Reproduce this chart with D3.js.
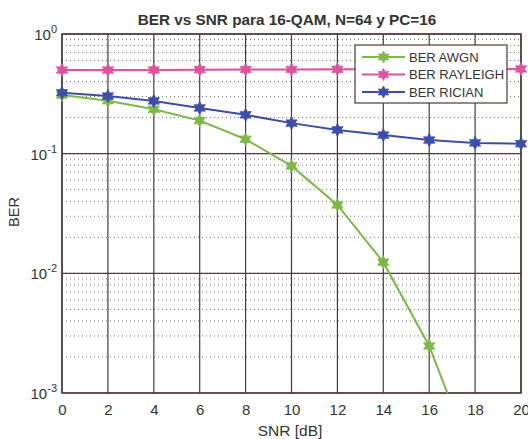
<!DOCTYPE html>
<html><head><meta charset="utf-8">
<script src="https://cdn.jsdelivr.net/npm/d3@7"></script>
<style>body{margin:0;background:#fff;}svg{display:block;}</style>
</head><body>
<script>
const snr = [0, 2, 4, 6, 8, 10, 12, 14, 16, 18, 20];
const berAWGN = [0.309, 0.277, 0.235, 0.189, 0.132, 0.079, 0.0373, 0.0124, 0.00247, 0.00025, 0.00001];
const berRayleigh = [0.50, 0.50, 0.50, 0.503, 0.505, 0.505, 0.507, 0.508, 0.51, 0.51, 0.51];
const berRician = [0.323, 0.303, 0.276, 0.241, 0.211, 0.180, 0.158, 0.143, 0.130, 0.123, 0.121];
const seriesNames = ["BER AWGN", "BER RAYLEIGH", "BER RICIAN"];
const seriesColors = ["#7db84a", "#d9559d", "#3d4fa3"];
const xTicks = [0, 2, 4, 6, 8, 10, 12, 14, 16, 18, 20];
const yTickExps = [0, -1, -2, -3];
const titleText = "BER vs SNR para 16-QAM, N=64 y PC=16";
const xLabel = "SNR [dB]";
const yLabel = "BER";

const W = 528, H = 439;
const L = 62, R = 521, T = 34, B = 393;
const svg = d3.select("body").append("svg").attr("width", W).attr("height", H);
const font = "'Liberation Sans', Arial, sans-serif";
const txt = "#333";
const frame = "#4a3a3a";

const x = d3.scaleLinear().domain([0, 20]).range([L, R]);
const y = d3.scaleLog().domain([1e-3, 1]).range([B, T]);

// minor grid (dotted)
const minor = [];
for (let e = -3; e < 0; e++) for (let m = 2; m <= 9; m++) minor.push(m * Math.pow(10, e));
svg.append("g").selectAll("line").data(minor).join("line")
  .attr("x1", L).attr("x2", R).attr("y1", d => y(d)).attr("y2", d => y(d))
  .attr("stroke", "#777").attr("stroke-width", 1).attr("stroke-dasharray", "1,3");

// major grid
svg.append("g").selectAll("line").data(xTicks).join("line")
  .attr("x1", d => x(d)).attr("x2", d => x(d)).attr("y1", T).attr("y2", B)
  .attr("stroke", frame).attr("stroke-width", 1.2);
svg.append("g").selectAll("line").data(yTickExps).join("line")
  .attr("x1", L).attr("x2", R).attr("y1", d => y(Math.pow(10, d))).attr("y2", d => y(Math.pow(10, d)))
  .attr("stroke", frame).attr("stroke-width", 1.2);

// frame
svg.append("rect").attr("x", L).attr("y", T).attr("width", R - L).attr("height", B - T)
  .attr("fill", "none").attr("stroke", frame).attr("stroke-width", 1.5);

// x axis labels
const xAxis = d3.axisBottom(x).tickValues(xTicks).tickSize(0).tickPadding(11);
const gx = svg.append("g").attr("transform", `translate(0,${B})`).call(xAxis);
gx.select(".domain").remove();
gx.selectAll("text").attr("font-family", font).attr("font-size", 15).attr("fill", txt);

// y axis labels (10^n)
const gy = svg.append("g");
yTickExps.forEach(e => {
  const t = gy.append("text").attr("x", 57).attr("y", y(Math.pow(10, e)) + 6)
    .attr("text-anchor", "end").attr("font-family", font).attr("font-size", 15).attr("fill", txt);
  t.append("tspan").text("10");
  t.append("tspan").attr("dy", -7).attr("font-size", 11).text(String(e));
});

// title and labels
svg.append("text").attr("x", 287).attr("y", 25).attr("text-anchor", "middle")
  .attr("font-family", font).attr("font-size", 15.3).attr("font-weight", "bold").attr("fill", txt).text(titleText);
svg.append("text").attr("x", 290).attr("y", 436).attr("text-anchor", "middle")
  .attr("font-family", font).attr("font-size", 15.5).attr("fill", txt).text(xLabel);
svg.append("text").attr("transform", "translate(19,212) rotate(-90)").attr("text-anchor", "middle")
  .attr("font-family", font).attr("font-size", 14.5).attr("fill", txt).text(yLabel);

// clip
svg.append("clipPath").attr("id", "clip").append("rect")
  .attr("x", L - 10).attr("y", T - 10).attr("width", R - L + 20).attr("height", B - T + 10);

function hexagram(r) {
  const pts = [];
  for (let i = 0; i < 12; i++) {
    const a = -Math.PI / 2 + i * Math.PI / 6;
    const rr = i % 2 === 0 ? r : r * 0.55;
    pts.push([rr * Math.cos(a), rr * Math.sin(a)]);
  }
  return "M" + pts.map(p => p.join(",")).join("L") + "Z";
}

const allSeries = [berAWGN, berRayleigh, berRician];
const line = d3.line().defined(d => d[1] > 0).x(d => x(d[0])).y(d => y(d[1]));
const plot = svg.append("g").attr("clip-path", "url(#clip)");
allSeries.forEach((vals, i) => {
  const data = snr.map((s, k) => [s, vals[k]]);
  plot.append("path").datum(data).attr("d", line).attr("fill", "none")
    .attr("stroke", seriesColors[i]).attr("stroke-width", 2);
  plot.selectAll(null).data(data.filter(d => d[1] >= 1e-3)).join("path")
    .attr("transform", d => `translate(${x(d[0])},${y(d[1])})`)
    .attr("d", hexagram(6.5)).attr("fill", seriesColors[i]).attr("stroke", seriesColors[i]).attr("stroke-width", 0.8);
});

// legend
const lg = svg.append("g");
lg.append("rect").attr("x", 355).attr("y", 45).attr("width", 152).attr("height", 58)
  .attr("fill", "#fff").attr("stroke", frame).attr("stroke-width", 1.2);
seriesNames.forEach((n, i) => {
  const yy = 57 + i * 17.5;
  lg.append("line").attr("x1", 362).attr("x2", 405).attr("y1", yy).attr("y2", yy)
    .attr("stroke", seriesColors[i]).attr("stroke-width", 2);
  lg.append("path").attr("transform", `translate(383.5,${yy})`).attr("d", hexagram(6))
    .attr("fill", seriesColors[i]).attr("stroke", seriesColors[i]).attr("stroke-width", 0.8);
  lg.append("text").attr("x", 409).attr("y", yy + 4.5).attr("font-family", font).attr("font-size", 13)
    .attr("fill", txt).text(n);
});
</script>
</body></html>
